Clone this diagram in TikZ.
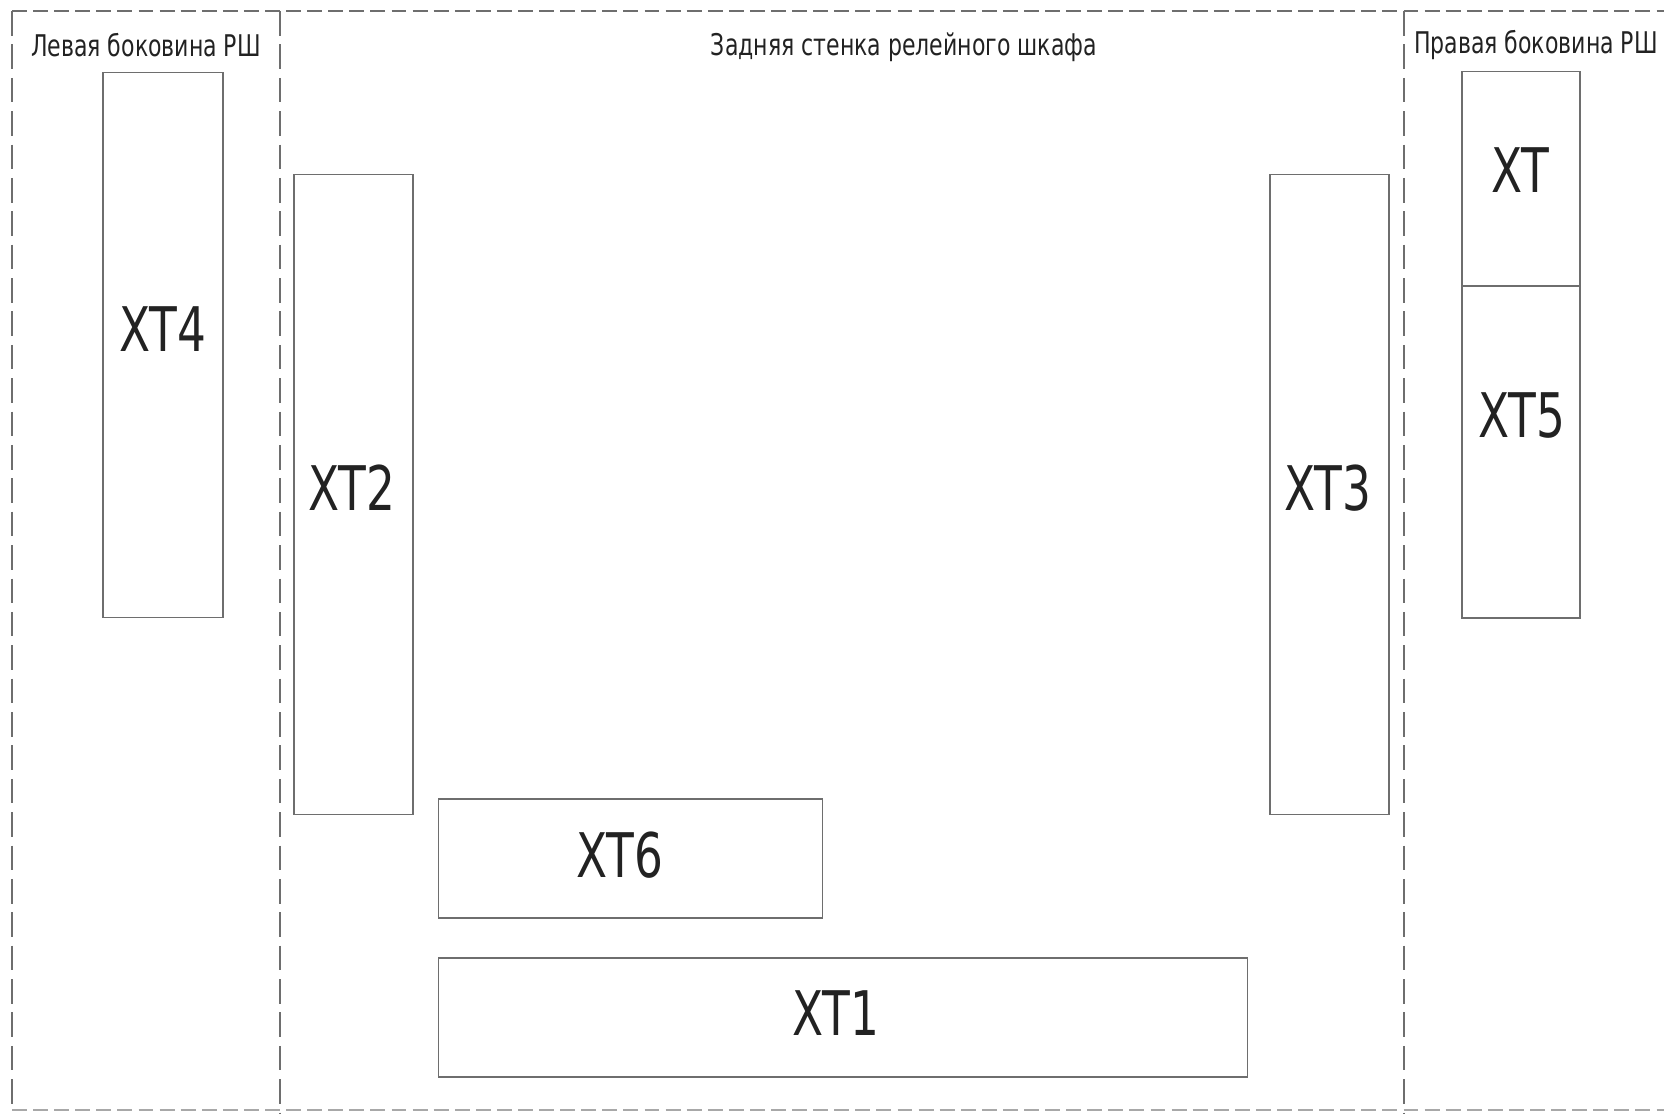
\documentclass[tikz,border=0pt]{standalone}
\usepackage{fontspec}
\setmainfont{DejaVu Sans Condensed}[FakeStretch=0.82]
\definecolor{frameGray}{HTML}{6E6E6E}
\definecolor{inkDark}{HTML}{222222}
\tikzset{
  box/.style={draw=frameGray, line width=0.6pt, rectangle, inner sep=0pt},
  tag/.style={text=inkDark, font=\fontsize{35}{35}\selectfont},
  title/.style={text=inkDark, font=\fontsize{17}{17}\selectfont},
  hdash/.style={draw=frameGray, line width=0.6pt, dash pattern=on 8.5pt off 3.5pt},
  vdash/.style={draw=frameGray, line width=0.6pt, dash pattern=on 14pt off 5pt}
}
\begin{document}
\begin{tikzpicture}[x=0.02cm, y=-0.02cm]
  \useasboundingbox (0,0) rectangle (1664,1113);
  % cabinet outline
  \coordinate (tl) at (12,11);
  \coordinate (tr) at (1664,11);
  \coordinate (bl) at (12,1110);
  \coordinate (br) at (1664,1110);
  \coordinate (d1t) at (280,11);
  \coordinate (d1b) at (280,1113);
  \coordinate (d2t) at (1404,11);
  \coordinate (d2b) at (1404,1113);
  \draw[hdash] (tl) -- (tr);
  \draw[hdash, draw=frameGray!60] (bl) -- (br);
  \draw[vdash] (tl) -- (bl);
  \draw[vdash] (d1t) -- (d1b);
  \draw[vdash] (d2t) -- (d2b);

  % headings
  \node[title] (left) at (146,45) {Левая боковина РШ};
  \node[title] (back) at (904,47) {Задняя стенка релейного шкафа};
  \node[title] (right) at (1536,45) {Правая боковина РШ};

  % terminal blocks
  \node[box, minimum width=2.4cm, minimum height=10.92cm] (xt4) at (163,345) {};
  \node[box, minimum width=2.38cm, minimum height=12.82cm] (xt2) at (353.5,494.5) {};
  \node[box, minimum width=2.38cm, minimum height=12.82cm] (xt3) at (1329.5,494.5) {};
  \node[box, minimum width=2.36cm, minimum height=4.3cm] (xt) at (1521,178.5) {};
  \node[box, minimum width=2.36cm, minimum height=6.64cm] (xt5) at (1521,452) {};
  \node[box, minimum width=7.7cm, minimum height=2.38cm] (xt6) at (630.5,858.5) {};
  \node[box, minimum width=16.2cm, minimum height=2.38cm] (xt1) at (843,1017.5) {};

  \node[tag] (xt4l) at (163,329) {XT4};
  \node[tag] (xt2l) at (352,488) {XT2};
  \node[tag] (xt3l) at (1328,488) {XT3};
  \node[tag] (xtl) at (1520,170) {XT};
  \node[tag] (xt5l) at (1522,416) {XT5};
  \node[tag] (xt6l) at (620,855) {XT6};
  \node[tag] (xt1l) at (836,1013) {XT1};
\end{tikzpicture}
\end{document}
